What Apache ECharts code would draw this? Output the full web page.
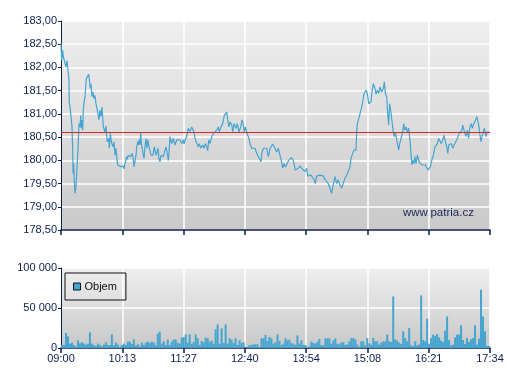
<!DOCTYPE html>
<html>
<head>
<meta charset="utf-8">
<script src="https://cdn.jsdelivr.net/npm/echarts@6/dist/echarts.min.js"></script>
<style>
html,body{margin:0;padding:0;background:#fff;}
#c{width:507px;height:380px;}
</style>
</head>
<body>
<div id="c"></div>
<script>
// ---- data ----
const tickLabels = ['09:00','10:13','11:27','12:40','13:54','15:08','16:21','17:34'];
const sessionMinutes = 514; // 09:00 -> 17:34
const refPrice = 180.60;

// minutes after 09:00
const times = [
0,0.8,2.0,2.8,4.8,6.0,7.2,8.4,9.6,9.9,
10.8,11.6,13.2,14.0,14.4,15.2,15.9,16.8,18.0,19.2,
20.4,21.6,22.8,23.6,24.3,25.2,26.0,26.7,27.9,28.8,
30.3,31.2,33.2,33.9,35.1,35.9,37.1,38.3,39.5,40.7,
41.9,43.5,45.5,46.7,47.9,49.1,50.7,52.7,53.9,54.7,
55.5,57.2,57.9,59.1,60.3,62.3,63.5,64.7,65.9,66.7,
67.9,69.5,71.9,73.1,74.3,75.5,76.7,77.9,78.7,79.4,
80.6,81.8,82.7,83.9,85.1,86.3,87.5,88.7,89.9,90.7,
91.9,92.6,93.5,94.6,95.5,96.2,97.0,98.2,99.4,100.6,
101.8,103.0,104.2,105.4,106.6,107.8,109.0,110.2,111.8,112.6,
113.8,115.0,116.2,117.4,118.6,119.8,122.6,125.8,127.0,128.6,
129.8,130.6,132.6,134.6,136.6,138.6,140.5,142.6,144.6,146.6,
147.4,148.6,150.6,152.5,154.6,156.6,158.5,159.7,160.5,162.5,
164.5,165.7,167.4,169.8,171.3,172.9,174.6,175.8,177.0,178.5,
180.6,182.5,184.6,186.6,188.5,189.7,191.7,193.7,195.7,197.4,
198.6,199.7,201.3,202.5,204.6,205.7,207.3,209.7,211.2,213.3,
215.3,216.9,218.4,219.6,220.8,222.5,223.7,225.2,226.4,228.5,
230.4,232.4,234.5,236.4,237.6,239.7,240.5,242.4,244.4,246.5,
248.4,250.4,253.5,256.3,258.3,260.3,262.3,264.3,265.6,267.1,
268.7,271.1,272.8,274.4,276.4,278.3,279.5,280.7,282.4,284.3,
286.3,288.4,290.3,292.3,294.4,295.6,297.5,299.5,301.5,303.5,
304.7,306.3,308.3,310.3,312.3,314.3,316.3,318.3,320.3,322.3,
324.3,326.2,328.3,330.3,332.2,334.3,336.3,338.2,340.3,342.3,
344.2,346.3,347.4,349.5,351.0,353.4,354.3,355.0,356.2,357.4,
359.1,360.3,361.5,363.0,364.2,365.4,367.0,368.7,370.2,371.4,
372.6,374.2,376.2,377.4,379.0,380.7,382.2,384.3,386.2,387.4,
388.6,390.2,391.4,392.6,393.8,395.0,396.2,397.4,398.1,399.3,
400.5,402.2,403.4,404.6,405.8,407.0,408.2,409.4,410.6,411.8,
413.4,415.0,416.6,418.1,419.3,420.5,421.7,422.9,424.1,425.3,
426.9,428.6,430.1,431.7,433.4,435.0,436.5,438.2,439.7,441.3,
442.5,444.2,446.1,448.1,449.3,450.9,452.6,454.1,455.7,457.4,
458.9,460.5,462.2,463.4,464.6,466.1,467.7,469.4,470.9,472.5,
474.1,475.7,477.2,478.9,480.4,481.3,482.2,483.7,485.2,486.8,
488.4,490.0,491.6,492.8,494.0,495.7,497.2,498.4,499.6,500.8,
502.0,503.2,504.4,506.0,507.2,508.4,509.2,510.4,512.0,514
];

const prices = [
182.52,182.15,182.37,182.23,182.19,182.01,182.15,181.94,181.72,181.23,
181.15,181.19,180.72,180.22,179.72,179.93,179.58,179.29,179.43,179.86,
180.26,180.79,180.72,180.97,180.69,180.87,180.65,181.08,181.29,181.37,
181.76,181.80,181.85,181.76,181.55,181.65,181.37,181.47,181.33,181.40,
181.22,181.08,180.87,181.08,180.94,181.15,180.72,180.61,180.74,180.54,
180.40,180.47,180.26,180.58,180.40,180.29,180.40,180.11,180.26,180.08,
179.90,179.86,179.86,179.83,179.88,179.82,179.93,179.97,180.08,180.02,
180.11,180.08,180.15,180.08,180.15,180.08,179.86,179.90,180.11,180.29,
180.40,180.33,180.44,180.33,180.61,180.36,180.29,180.15,180.04,180.29,
180.47,180.26,180.44,180.29,180.26,180.11,180.15,180.11,180.29,180.22,
180.11,180.18,180.26,180.04,179.97,180.11,180.08,180.29,180.18,180.00,
180.26,180.51,180.36,180.47,180.33,180.44,180.47,180.44,180.36,180.44,
180.35,180.44,180.51,180.69,180.62,180.72,180.65,180.58,180.47,180.44,
180.29,180.36,180.26,180.33,180.26,180.36,180.29,180.21,180.44,180.36,
180.51,180.58,180.61,180.65,180.72,180.61,180.72,180.79,180.97,180.94,
181.04,180.87,180.72,180.83,180.76,180.61,180.79,180.69,180.79,180.61,
180.72,180.87,180.76,180.61,180.72,180.61,180.54,180.47,180.36,180.26,
180.29,180.26,180.15,180.15,180.04,179.97,180.15,180.26,180.22,180.26,
180.08,180.25,180.35,180.26,180.18,180.26,180.11,179.97,179.83,179.93,
179.86,179.93,180.00,179.97,180.06,180.00,179.90,179.79,179.79,179.83,
179.88,179.83,179.86,179.76,179.83,179.66,179.66,179.68,179.63,179.58,
179.50,179.66,179.65,179.68,179.65,179.66,179.59,179.56,179.50,179.40,
179.29,179.47,179.65,179.50,179.58,179.47,179.40,179.51,179.62,179.68,
179.76,179.86,180.04,180.15,180.22,180.22,180.61,180.79,180.76,180.94,
180.97,181.15,181.26,181.44,181.40,181.51,181.44,181.22,181.19,181.26,
181.47,181.65,181.55,181.42,181.51,181.44,181.58,181.47,181.55,181.69,
181.44,181.37,181.01,180.76,181.22,181.08,180.90,180.72,180.61,180.51,
180.61,180.44,180.33,180.22,180.36,180.44,180.40,180.61,180.79,180.65,
180.72,180.61,180.69,180.44,180.15,179.90,180.00,179.93,180.08,179.93,
180.11,180.00,179.93,179.97,179.90,179.86,179.90,179.86,179.79,179.76,
179.86,180.00,180.11,180.29,180.26,180.36,180.47,180.51,180.36,180.44,
180.54,180.40,180.29,180.15,180.33,180.29,180.36,180.26,180.33,180.29,
180.44,180.47,180.58,180.54,180.65,180.76,180.69,180.65,180.51,180.65,
180.47,180.72,180.79,180.69,180.76,180.83,180.83,180.94,180.83,180.72,
180.54,180.40,180.51,180.61,180.69,180.58,180.51,180.61,180.58,180.60
];

// volume per ~2.39-minute bucket, in thousands of shares
const volumesK = [
3.7,3.7,18.8,14.6,5.5,6.7,3.7,2.0,9.6,5.8,
7.1,5.5,4.2,5.5,19.6,5.5,3.7,2.5,5.5,3.7,
2.1,4.2,7.1,3.7,3.7,17.0,3.3,6.7,4.2,1.2,
3.7,5.5,3.7,7.9,7.9,5.0,10.8,2.9,4.6,2.1,
6.7,3.7,6.7,7.9,6.3,7.9,6.7,3.7,18.0,20.4,
5.5,8.3,3.7,10.4,3.7,7.9,10.4,10.8,6.7,5.5,
12.9,13.8,17.0,6.7,17.0,5.0,7.5,17.0,12.1,3.7,
8.8,7.1,12.9,12.1,8.0,9.2,5.4,23.3,29.6,5.4,
24.6,6.3,29.6,5.4,12.1,10.4,6.3,12.1,3.8,9.6,
6.3,7.1,0.4,1.3,3.8,3.8,4.6,4.6,4.6,1.3,
12.1,12.1,16.3,8.8,13.8,12.1,5.4,7.1,17.1,8.8,
3.8,5.4,12.1,9.6,10.4,6.3,5.4,3.8,15.8,5.4,
9.6,3.8,3.8,1.3,2.1,7.9,6.3,5.4,7.9,11.3,
3.8,3.8,12.1,12.1,12.1,5.4,9.6,12.1,5.4,4.6,
7.1,7.1,4.2,4.2,8.3,12.5,12.5,10.8,4.2,1.7,
8.3,8.3,3.3,12.5,5.8,4.2,12.5,8.3,8.3,4.2,
6.7,8.3,8.3,16.7,8.3,7.5,64.5,10.8,9.2,6.7,
5.0,20.8,12.5,8.3,25.0,3.3,2.5,8.3,3.3,4.2,
65.7,10.0,8.3,36.6,5.4,12.5,16.7,15.0,17.5,13.3,
9.2,7.5,21.7,39.5,10.0,3.3,4.2,13.3,16.7,16.7,
28.4,10.0,5.0,12.5,7.5,10.8,12.5,28.4,4.2,11.7,
72.9,39.5,20.8,2.5,2.5
];

// ---- build ----
const priceData = times.map((t, i) => [t, prices[i]]);
const volStep = sessionMinutes / volumesK.length;
const volData = volumesK.map((v, i) => [(i + 0.5) * volStep, v * 1000]);
const labelStep = sessionMinutes / (tickLabels.length - 1);

const navy = '#0c1f50';
const lineBlue = '#45a5d0';
const bg = new echarts.graphic.LinearGradient(0, 0, 0, 1, [
  {offset: 0, color: '#efefef'}, {offset: 1, color: '#c9c9c9'}
]);
const bg2 = new echarts.graphic.LinearGradient(0, 0, 0, 1, [
  {offset: 0, color: '#efefef'}, {offset: 1, color: '#c8c8c8'}
]);
const fontFam = 'Liberation Sans, Arial, sans-serif';

const chart = echarts.init(document.getElementById('c'), null, {renderer: 'canvas'});
chart.setOption({
  animation: false,
  grid: [
    {left: 61, right: 17, top: 21, height: 209, show: true, backgroundColor: bg, borderWidth: 0},
    {left: 61, right: 17, top: 268, height: 80, show: true, backgroundColor: bg2, borderWidth: 0}
  ],
  legend: {
    data: [{name: 'Objem', icon: 'rect'}],
    left: 65, top: 273,
    orient: 'horizontal',
    borderColor: '#111',
    borderWidth: 1,
    borderRadius: 0,
    padding: [8, 9, 8, 8],
    itemWidth: 7, itemHeight: 7,
    itemStyle: {borderColor: '#111', borderWidth: 1},
    textStyle: {color: '#111', fontSize: 11, fontFamily: fontFam, padding: [0, 0, 0, -1]}
  },
  xAxis: [
    {
      type: 'value', gridIndex: 0, min: 0, max: sessionMinutes, interval: labelStep,
      axisLine: {show: true, lineStyle: {color: navy, width: 1.5}},
      axisTick: {show: true, length: 5, lineStyle: {color: navy, width: 1.5}},
      axisLabel: {show: false},
      splitLine: {show: true, lineStyle: {color: '#ffffff', width: 1.5}}
    },
    {
      type: 'value', gridIndex: 1, min: 0, max: sessionMinutes, interval: labelStep,
      axisLine: {show: true, lineStyle: {color: navy, width: 1.5}},
      axisTick: {show: true, length: 5, lineStyle: {color: navy, width: 1.5}},
      axisLabel: {
        show: true, color: navy, fontSize: 11, fontFamily: fontFam, margin: 5,
        formatter: v => tickLabels[Math.round(v / labelStep)] || ''
      },
      splitLine: {show: true, lineStyle: {color: '#ffffff', width: 1.5}}
    }
  ],
  yAxis: [
    {
      type: 'value', gridIndex: 0, min: 178.5, max: 183, interval: 0.5,
      axisLine: {show: true, lineStyle: {color: navy, width: 1}},
      axisTick: {show: true, length: 3, lineStyle: {color: navy}},
      axisLabel: {
        color: navy, fontSize: 11, fontFamily: fontFam, margin: 4,
        formatter: v => v.toFixed(2).replace('.', ',')
      },
      splitLine: {show: true, lineStyle: {color: '#ffffff', width: 1.5}}
    },
    {
      type: 'value', gridIndex: 1, min: 0, max: 100000, interval: 50000,
      axisLine: {show: true, lineStyle: {color: navy, width: 1}},
      axisTick: {show: true, length: 3, lineStyle: {color: navy}},
      axisLabel: {
        color: navy, fontSize: 11, fontFamily: fontFam, margin: 4,
        formatter: v => String(v).replace(/\B(?=(\d{3})+(?!\d))/g, ' ')
      },
      splitLine: {show: true, lineStyle: {color: '#ffffff', width: 1.5}}
    }
  ],
  graphic: [
    {
      type: 'text', left: 403, top: 207, silent: true,
      style: {text: 'www.patria.cz', fill: '#1a2755', font: '11.5px Liberation Sans, Arial, sans-serif'}
    }
  ],
  series: [
    {
      name: 'Cena', type: 'line', xAxisIndex: 0, yAxisIndex: 0,
      data: priceData, showSymbol: false, symbol: 'none',
      lineStyle: {color: lineBlue, width: 1.2},
      markLine: {
        silent: true, symbol: 'none', label: {show: false},
        lineStyle: {color: '#e0262b', width: 1, type: 'solid'},
        data: [{yAxis: refPrice}]
      },
      z: 3
    },
    {
      name: 'Objem', type: 'bar', xAxisIndex: 1, yAxisIndex: 1,
      data: volData, barWidth: 2,
      itemStyle: {color: lineBlue},
      large: false
    }
  ]
});
</script>
</body>
</html>
